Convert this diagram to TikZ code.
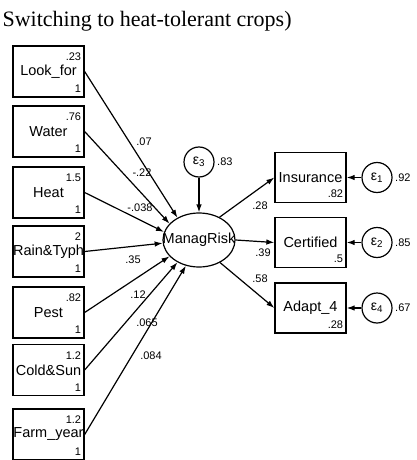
\documentclass[tikz,border=0pt]{standalone}
\usepackage{fontspec}
\setmainfont{Liberation Sans}
\newfontfamily\titlefont{Liberation Serif}
\usepackage{tikz}
\usetikzlibrary{arrows.meta, positioning, shapes.geometric}

\begin{document}
\begin{tikzpicture}[x=1pt, y=1pt, line width=1.2pt, >={Latex[length=8pt,width=5.5pt]},
        obs/.style={draw, rectangle, line width=1.3pt, minimum width=71pt, minimum height=51pt, inner sep=0pt, font=\fontsize{14.5}{15}\selectfont},
        latent/.style={draw, ellipse, minimum width=72pt, minimum height=54pt, inner sep=0pt, font=\fontsize{14.5}{15}\selectfont},
        err/.style={draw, circle, minimum size=30pt, inner sep=0pt, font=\fontsize{14}{15}\selectfont},
        topval/.style={anchor=north east, inner sep=2pt, xshift=-1pt, yshift=-5pt, font=\fontsize{11}{12}\selectfont},
        botval/.style={anchor=south east, inner sep=2pt, xshift=-1pt, yshift=2.5pt, font=\fontsize{11}{12}\selectfont},
        coef/.style={inner sep=0pt, font=\fontsize{11}{12}\selectfont}]
        \useasboundingbox (0,0) rectangle (416,-460);

        % Title
        \node[anchor=base west, inner sep=0pt, font=\titlefont\fontsize{22}{24}\selectfont] (title) at (2,-27) {Switching to heat-tolerant crops)};

        % Observed causes (left)
        \node[obs] (look) at (48.5,-71.5) {Look\_for};
        \node[topval] (lookv) at (look.north east) {.23};
        \node[botval] (looko) at (look.south east) {1};
        \node[obs] (water) at (48.5,-131.5) {Water};
        \node[topval] (waterv) at (water.north east) {.76};
        \node[botval] (watero) at (water.south east) {1};
        \node[obs] (heat) at (48.5,-192.5) {Heat};
        \node[topval] (heatv) at (heat.north east) {1.5};
        \node[botval] (heato) at (heat.south east) {1};
        \node[obs] (rain) at (48.5,-251.5) {Rain\&Typh};
        \node[topval] (rainv) at (rain.north east) {2};
        \node[botval] (raino) at (rain.south east) {1};
        \node[obs] (pest) at (48.5,-312.5) {Pest};
        \node[topval] (pestv) at (pest.north east) {.82};
        \node[botval] (pesto) at (pest.south east) {1};
        \node[obs] (cold) at (48.5,-370) {Cold\&Sun};
        \node[topval] (coldv) at (cold.north east) {1.2};
        \node[botval] (coldo) at (cold.south east) {1};
        \node[obs] (farm) at (48.5,-434.5) {Farm\_year};
        \node[topval] (farmv) at (farm.north east) {1.2};
        \node[botval] (farmo) at (farm.south east) {1};

        % Latent variable
        \node[latent] (mr) at (199,-240) {\makebox[0pt]{ManagRisk}};
        \node[err] (e3) at (199,-162) {ε\textsubscript{3}};
        \node[coef, right=2pt of e3] (e3v) {.83};

        % Indicators (right)
        \node[obs, minimum height=50pt] (ins) at (310.5,-177.5) {Insurance};
        \node[botval] (insv) at (ins.south east) {.82};
        \node[obs, minimum height=50pt] (cert) at (310.5,-242.5) {Certified};
        \node[botval] (certv) at (cert.south east) {.5};
        \node[obs, minimum height=50pt] (adapt) at (310.5,-308) {Adapt\_4};
        \node[botval] (adaptv) at (adapt.south east) {.28};

        \node[err] (e1) at (377,-177.5) {ε\textsubscript{1}};
        \node[coef, right=2pt of e1] (e1v) {.92};
        \node[err] (e2) at (377,-242.5) {ε\textsubscript{2}};
        \node[coef, right=2pt of e2] (e2v) {.85};
        \node[err] (e4) at (377,-308) {ε\textsubscript{4}};
        \node[coef, right=2pt of e4] (e4v) {.67};

        % Paths
        \draw[->] (look.east) -- (mr.134);
        \draw[->] (water.east) -- (mr.151);
        \draw[->] (heat.east) -- (mr.167);
        \draw[->] (rain.east) -- (mr.185);
        \draw[->] (pest.east) -- (mr.209);
        \draw[->] (cold.east) -- (mr.226);
        \draw[->] (farm.east) -- (mr.243);
        \draw[->] (e3) -- (mr);
        \draw[->] (mr.48) -- (ins.west);
        \draw[->] (mr.east) -- (cert.west);
        \draw[->] (mr.-47) -- (adapt.west);
        \draw[->] (e1) -- (ins);
        \draw[->] (e2) -- (cert);
        \draw[->] (e4) -- (adapt);

        % Coefficients
        \node[coef] (c1) at (144,-142) {.07};
        \node[coef] (c2) at (142,-173) {-.22};
        \node[coef] (c3) at (140,-208) {-.038};
        \node[coef] (c4) at (133,-260) {.35};
        \node[coef] (c5) at (138,-295) {.12};
        \node[coef] (c6) at (147,-323) {.065};
        \node[coef] (c7) at (151,-356) {.084};
        \node[coef] (c8) at (260,-206) {.28};
        \node[coef] (c9) at (263,-253) {.39};
        \node[coef] (c10) at (260,-279) {.58};
    \end{tikzpicture}
\end{document}
